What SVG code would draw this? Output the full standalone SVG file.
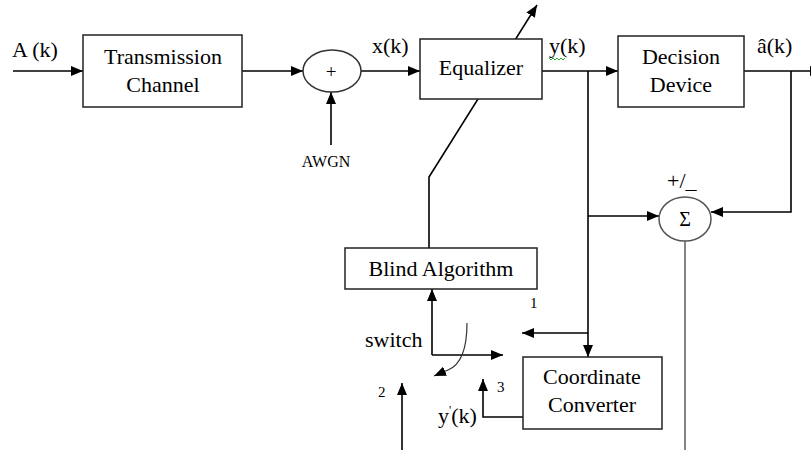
<svg xmlns="http://www.w3.org/2000/svg" width="811" height="450" viewBox="0 0 811 450">
<defs>
<marker id="ah" viewBox="0 0 12 10" refX="12" refY="5" markerWidth="12" markerHeight="10" orient="auto" markerUnits="userSpaceOnUse"><path d="M0,0 L12,5 L0,10 z" fill="#000"/></marker>
</defs>
<style>
text{font-family:"Liberation Serif","Times New Roman",serif;fill:#000}
.lbl{font-size:22px}
.box{fill:#fff;stroke:#222;stroke-width:1.5}
.ln{fill:none;stroke:#000;stroke-width:1.6}
.c{text-anchor:middle}
.sm{font-size:15px}
</style>
<rect width="811" height="450" fill="#fff"/>
<g id="connectors">
<path class="ln" d="M13,71 H83" marker-end="url(#ah)"/>
<path class="ln" d="M242,71 H303" marker-end="url(#ah)"/>
<path class="ln" d="M331,145 V92" marker-end="url(#ah)"/>
<path class="ln" d="M361,71 H420" marker-end="url(#ah)"/>
<path class="ln" d="M542,71 H618" marker-end="url(#ah)"/>
<path class="ln" d="M744,71 H822" marker-end="url(#ah)"/>
<path class="ln" d="M791,71 V212 H711" marker-end="url(#ah)"/>
<path class="ln" d="M588,71 V357" marker-end="url(#ah)"/>
<path class="ln" d="M588,216 H659" marker-end="url(#ah)"/>
<path class="ln" d="M588,333 H522" marker-end="url(#ah)"/>
<path fill="none" stroke="#666" stroke-width="1.6" d="M685,241 V450"/>
<path class="ln" d="M429,248 V177 L537,5" marker-end="url(#ah)"/>
<path class="ln" d="M432,355 V289" marker-end="url(#ah)"/>
<path class="ln" d="M432,355 H503" marker-end="url(#ah)"/>
<path fill="none" stroke="#333" stroke-width="1.2" d="M467,323 C467,345 463,364 448,370 L434,376" marker-end="url(#ah)"/>
<path class="ln" d="M402,450 V383" marker-end="url(#ah)"/>
<path class="ln" d="M526,417 H483 V379" marker-end="url(#ah)"/>
</g>
<g id="input-label"><text class="lbl" x="12" y="57">A (k)</text></g>
<g id="channel">
<rect class="box" x="83" y="35" width="159" height="72"/>
<text class="lbl c" x="163" y="64">Transmission</text>
<text class="lbl c" x="163" y="92">Channel</text>
</g>
<g id="adder">
<ellipse cx="332" cy="71" rx="29" ry="21" fill="#fff" stroke="#333" stroke-width="1.5"/>
<text class="c" x="331" y="78" font-size="19">+</text>
</g>
<g id="awgn"><text class="c" x="326" y="167" font-size="16">AWGN</text></g>
<g id="xk"><text class="lbl" x="372" y="53">x(k)</text></g>
<g id="equalizer">
<rect class="box" x="420" y="39" width="122" height="60"/>
<text class="lbl c" x="481" y="75">Equalizer</text>
</g>
<g id="yk">
<text class="lbl" x="549" y="53">y(k)</text>
<path d="M549,58 l2,2 l2,-2 l2,2 l2,-2 l2,2 l2,-2 l2,2 l2,-2" fill="none" stroke="#3a3" stroke-width="1"/>
</g>
<g id="decision">
<rect class="box" x="618" y="36" width="126" height="71"/>
<text class="lbl c" x="681" y="64">Decision</text>
<text class="lbl c" x="681" y="92">Device</text>
</g>
<g id="ahat"><text class="lbl" x="757" y="53">â(k)</text></g>
<g id="sum">
<text class="lbl" x="667" y="188">+/_</text>
<ellipse cx="685" cy="219" rx="26" ry="22" fill="#fff" stroke="#555" stroke-width="1.5"/>
<text class="c" x="685" y="226" font-size="20">Σ</text>
</g>
<g id="blind">
<rect class="box" x="345" y="248" width="192" height="41"/>
<text class="lbl c" x="441" y="276">Blind Algorithm</text>
</g>
<g id="switch-labels">
<text class="lbl" x="365" y="347">switch</text>
<text class="sm" x="530" y="308">1</text>
<text class="sm" x="378" y="397">2</text>
<text class="sm" x="497" y="392">3</text>
<text class="lbl" x="438" y="423">y<tspan font-size="12" dy="-9">'</tspan><tspan dy="9">(k)</tspan></text>
</g>
<g id="converter">
<rect class="box" x="523" y="357" width="139" height="72"/>
<text class="lbl c" x="592" y="384">Coordinate</text>
<text class="lbl c" x="592" y="412">Converter</text>
</g>
</svg>
